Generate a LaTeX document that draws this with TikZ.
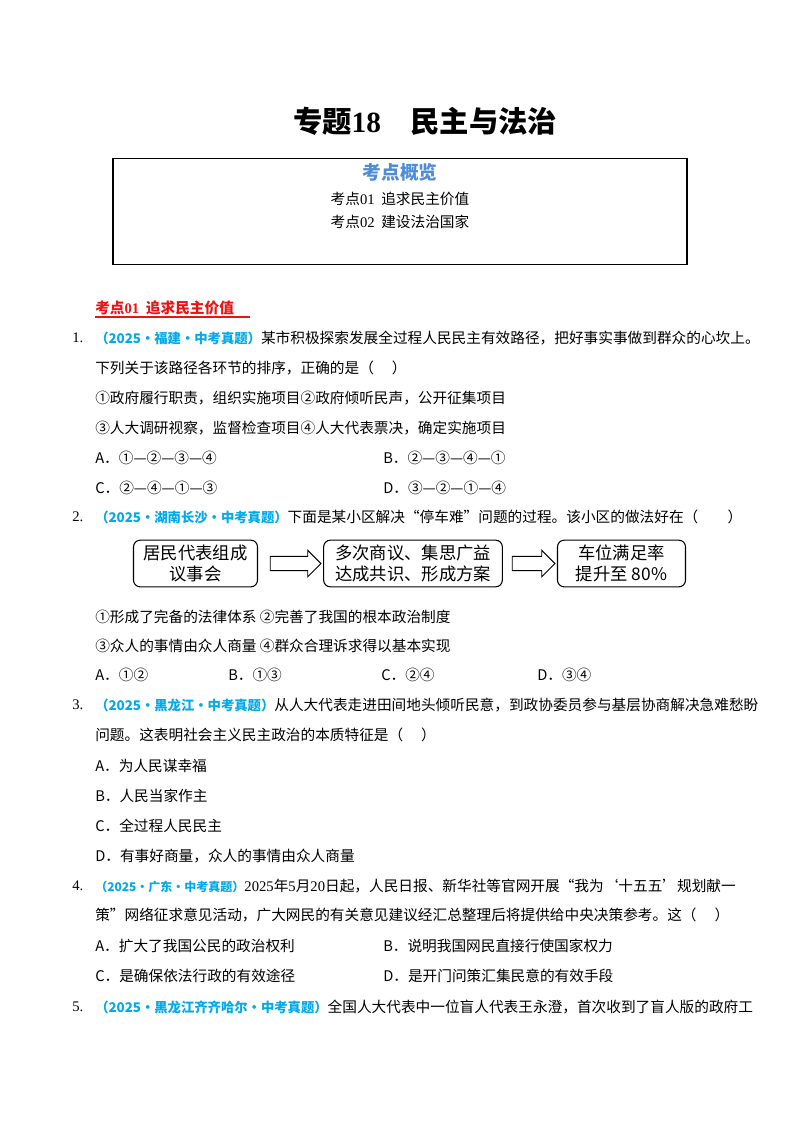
\documentclass[tikz,border=0pt]{standalone}
\usetikzlibrary{shapes.arrows}
\usepackage{fontspec}
\setmainfont{Liberation Serif}
\newfontfamily\cjk{Noto Sans CJK SC}
\definecolor{srcblue}{RGB}{0,170,235}
\definecolor{hblue}{RGB}{80,140,215}
\definecolor{hred}{RGB}{235,20,20}
\begin{document}
\begin{tikzpicture}[x=0.75pt,y=-0.75pt,
  t/.style={anchor=west,inner sep=0pt,font=\cjk\fontsize{11}{13}\selectfont},
  fb/.style={draw,rounded corners=5pt,line width=0.8pt,minimum height=35pt,align=center,font=\cjk\fontsize{13}{16}\selectfont,inner sep=2pt},
  arr/.style={draw,single arrow,single arrow head extend=4.5pt,minimum height=36pt,inner sep=0pt,line width=0.7pt}]
\useasboundingbox (0,0) rectangle (800,1132);
\fill[white] (0,0) rectangle (800,1132);
\node[font=\cjk\bfseries\fontsize{22}{26}\selectfont] (title) at (425,121) {专题{\rmfamily 18}\quad 民主与法治};
\node[draw,line width=0.8pt,minimum width=430.5pt,minimum height=80pt,inner sep=0pt] (box) at (400,211.5) {};
\node[font=\cjk\bfseries\fontsize{14}{16}\selectfont,text=hblue] (ov) at (400,172) {考点概览};
\node[t,anchor=center] (k1) at (400,199) {考点{\rmfamily 01} \ 追求民主价值};
\node[t,anchor=center] (k2) at (400,222) {考点{\rmfamily 02} \ 建设法治国家};
\node[t,text=hred,font=\cjk\bfseries\fontsize{11}{13}\selectfont] (h1) at (95,308) {考点{\rmfamily 01} \ 追求民主价值};
\draw[hred,line width=1pt] (95,317) -- (250,317);
% Q1
\node[t] (q1n) at (72,338) {\rmfamily 1.};
\node[t] (q1) at (95,338) {{\cjk\bfseries\fontsize{10}{12}\selectfont\color{srcblue}（2025·福建·中考真题）}某市积极探索发展全过程人民民主有效路径，把好事实事做到群众的心坎上。};
\node[t] (q1b) at (95,368) {下列关于该路径各环节的排序，正确的是（\quad\ ）};
\node[t] (q1c) at (95,398) {①政府履行职责，组织实施项目②政府倾听民声，公开征集项目};
\node[t] (q1d) at (95,428) {③人大调研视察，监督检查项目④人大代表票决，确定实施项目};
\node[t] (q1A) at (95,458) {A．①—②—③—④};
\node[t] (q1B) at (383,458) {B．②—③—④—①};
\node[t] (q1C) at (95,488) {C．②—④—①—③};
\node[t] (q1D) at (383,488) {D．③—②—①—④};
% Q2
\node[t] (q2n) at (72,517) {\rmfamily 2.};
\node[t] (q2) at (95,517) {{\cjk\bfseries\fontsize{10}{12}\selectfont\color{srcblue}（2025·湖南长沙·中考真题）}下面是某小区解决“停车难”问题的过程。该小区的做法好在（\qquad ）};
\node[fb,minimum width=93pt] (f1) at (195.5,563.5) {居民代表组成\\议事会};
\node[fb,minimum width=134pt] (f2) at (413,563.5) {多次商议、集思广益\\达成共识、形成方案};
\node[fb,minimum width=96pt] (f3) at (621.5,563.5) {车位满足率\\提升至 80\%};
\node[arr,minimum height=38pt] (a1) at (292,563.5) {\rule{0pt}{10pt}};
\node[arr,minimum height=32pt] (a2) at (530,563.5) {\rule{0pt}{10pt}};
\node[t] (q2c) at (95,617) {①形成了完备的法律体系 ②完善了我国的根本政治制度};
\node[t] (q2d) at (95,646) {③众人的事情由众人商量 ④群众合理诉求得以基本实现};
\node[t] (q2A) at (95,675) {A．①②};
\node[t] (q2B) at (228,675) {B．①③};
\node[t] (q2C) at (381,675) {C．②④};
\node[t] (q2D) at (537,675) {D．③④};
% Q3
\node[t] (q3n) at (72,705) {\rmfamily 3.};
\node[t] (q3) at (95,705) {{\cjk\bfseries\fontsize{10}{12}\selectfont\color{srcblue}（2025·黑龙江·中考真题）}从人大代表走进田间地头倾听民意，到政协委员参与基层协商解决急难愁盼};
\node[t] (q3b) at (95,735) {问题。这表明社会主义民主政治的本质特征是（\quad\ ）};
\node[t] (q3A) at (95,766) {A．为人民谋幸福};
\node[t] (q3B) at (95,796) {B．人民当家作主};
\node[t] (q3C) at (95,826) {C．全过程人民民主};
\node[t] (q3D) at (95,856) {D．有事好商量，众人的事情由众人商量};
% Q4
\node[t] (q4n) at (72,886) {\rmfamily 4.};
\node[t] (q4) at (95,886) {{\cjk\bfseries\fontsize{9}{11}\selectfont\color{srcblue}（2025·广东·中考真题）}{\rmfamily 2025}年{\rmfamily 5}月{\rmfamily 20}日起，人民日报、新华社等官网开展“我为‘十五五’规划献一};
\node[t] (q4b) at (95,915) {策”网络征求意见活动，广大网民的有关意见建议经汇总整理后将提供给中央决策参考。这（\quad\ ）};
\node[t] (q4A) at (95,946) {A．扩大了我国公民的政治权利};
\node[t] (q4B) at (383,946) {B．说明我国网民直接行使国家权力};
\node[t] (q4C) at (95,976) {C．是确保依法行政的有效途径};
\node[t] (q4D) at (383,976) {D．是开门问策汇集民意的有效手段};
% Q5
\node[t] (q5n) at (72,1007) {\rmfamily 5.};
\node[t] (q5) at (95,1007) {{\cjk\bfseries\fontsize{10}{12}\selectfont\color{srcblue}（2025·黑龙江齐齐哈尔·中考真题）}全国人大代表中一位盲人代表王永澄，首次收到了盲人版的政府工};
\end{tikzpicture}
\end{document}
